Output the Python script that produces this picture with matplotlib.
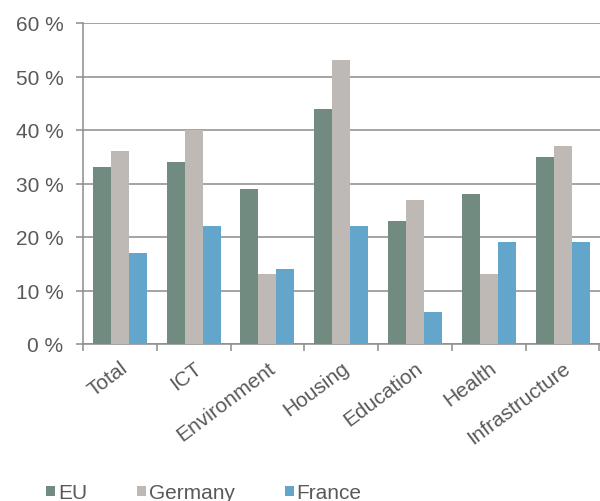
import matplotlib
matplotlib.use("Agg")
import matplotlib.pyplot as plt
from matplotlib.patches import Patch
from matplotlib.transforms import ScaledTranslation
import numpy as np

categories = ["Total", "ICT", "Environment", "Housing", "Education", "Health", "Infrastructure"]
eu = [33, 34, 29, 44, 23, 28, 35]
germany = [36, 40, 13, 53, 27, 13, 37]
france = [17, 22, 14, 22, 6, 19, 19]
series_names = ["EU", "Germany", "France"]
y_ticks = [0, 10, 20, 30, 40, 50, 60]

colors = ["#728B80", "#BEB9B5", "#64A6CB"]
text_color = "#595959"
grid_color = "#8C8C8C"
fs = 15

plt.rcParams["font.family"] = ["Liberation Sans", "DejaVu Sans"]

fig = plt.figure(figsize=(6.0, 5.02), dpi=100)
ax = fig.add_axes([83 / 600, 157 / 502, 516.5 / 600, 321 / 502])

x = np.arange(len(categories))
w = 0.244
for i, (vals, col) in enumerate(zip([eu, germany, france], colors)):
    ax.bar(x + (i - 1) * w, vals, width=w, color=col, edgecolor="none", zorder=3)

ax.set_xlim(-0.5, len(categories) - 0.5)
ax.set_ylim(0, 60)
ax.set_yticks(y_ticks)
ax.set_yticklabels([f"{v} %" for v in y_ticks])
ax.yaxis.grid(True, color=grid_color, linewidth=1.1, zorder=0)
ax.set_axisbelow(True)

# category boundary ticks on the x axis
ax.set_xticks(np.arange(len(categories) + 1) - 0.5)
ax.set_xticklabels([])
ax.set_xticks(x, minor=True)
labels = ax.set_xticklabels(categories, minor=True, rotation=37, ha="right",
                            va="top", rotation_mode="anchor", fontsize=fs,
                            color=text_color)
shift = ScaledTranslation(-15 / 100, 0, fig.dpi_scale_trans)
for lab in labels:
    lab.set_transform(lab.get_transform() + shift)
ax.tick_params(axis="x", which="minor", length=0, pad=10)
ax.tick_params(axis="x", which="major", length=5, width=1.1, color=grid_color)
ax.tick_params(axis="y", length=5, width=1.1, color=grid_color, pad=9,
               labelsize=fs, labelcolor=text_color)

for s in ["top", "right"]:
    ax.spines[s].set_visible(False)
for s in ["left", "bottom"]:
    ax.spines[s].set_color(grid_color)
    ax.spines[s].set_linewidth(1.1)

handles = [Patch(facecolor=c, edgecolor="none") for c in colors]
fig.legend(handles, series_names, loc="center left",
           bbox_to_anchor=(46 / 600, 1 - 494 / 502),
           ncol=3, frameon=False, fontsize=fs, labelcolor=text_color,
           handlelength=0.42, handleheight=0.42, handletextpad=0.15,
           columnspacing=2.4, borderaxespad=0.0, borderpad=0.0)

fig.savefig("out.png", dpi=100)
